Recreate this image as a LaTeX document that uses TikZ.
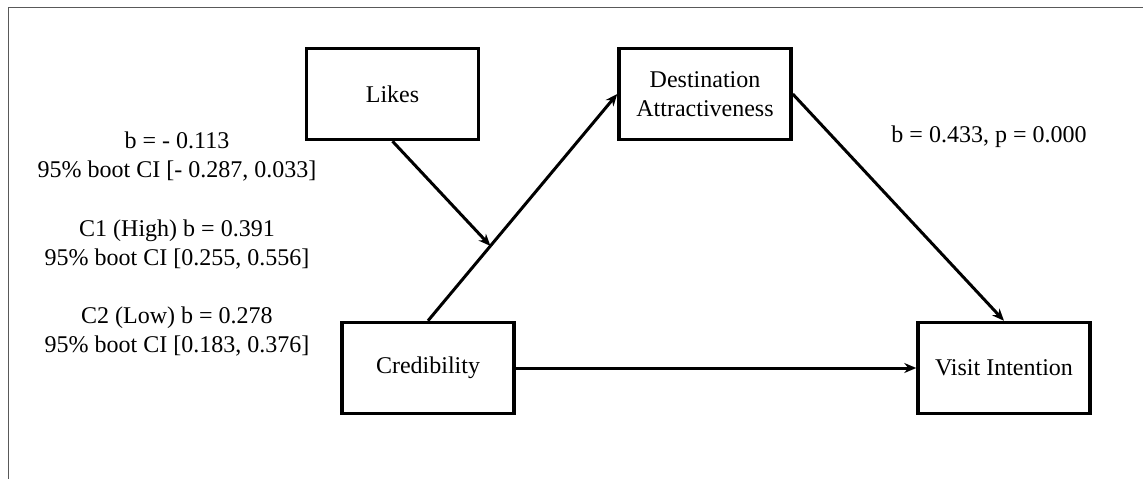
\documentclass[tikz,border=0pt]{standalone}
\usepackage{fontspec}
\setmainfont{Liberation Serif}
\usetikzlibrary{arrows.meta,calc}
\begin{document}
\begin{tikzpicture}[x=1pt,y=-1pt,
  box/.style={draw=black,line width=3.5pt,minimum width=172pt,minimum height=91pt,inner sep=0pt,align=center,font=\fontsize{24}{29}\selectfont},
  lab/.style={align=center,inner sep=0pt,font=\fontsize{24}{29}\selectfont},
  conn/.style={line width=3pt,-{Stealth[length=12pt,width=10pt]}}]
\useasboundingbox (0,0) rectangle (1143,479);
\draw[line width=1pt,black!65] (8,479) -- (8,7) -- (1143,7);
\node[box] (likes) at (392.5,94) {Likes};
\node[box] (dest) at (705,94) {Destination\\Attractiveness};
\node[box] (cred) at (428,368) {Credibility};
\node[box] (visit) at (1004,368) {Visit Intention};
\coordinate (mod) at ($(cred.north)!0.33!(dest.west)$);
\draw[conn] (cred.north) -- (dest.west);
\draw[conn] (likes.south) -- (mod);
\draw[conn] (dest.east) -- (visit.north);
\draw[conn] (cred.east) -- (visit.west);
\node[lab] (t1) at (177,157) {b = - 0.113\\95\% boot CI [- 0.287, 0.033]};
\node[lab] (t2) at (177,245) {C1 (High) b = 0.391\\95\% boot CI [0.255, 0.556]};
\node[lab] (t3) at (177,332) {C2 (Low) b = 0.278\\95\% boot CI [0.183, 0.376]};
\node[lab] (t4) at (989,137) {b = 0.433, p = 0.000};
\end{tikzpicture}
\end{document}
